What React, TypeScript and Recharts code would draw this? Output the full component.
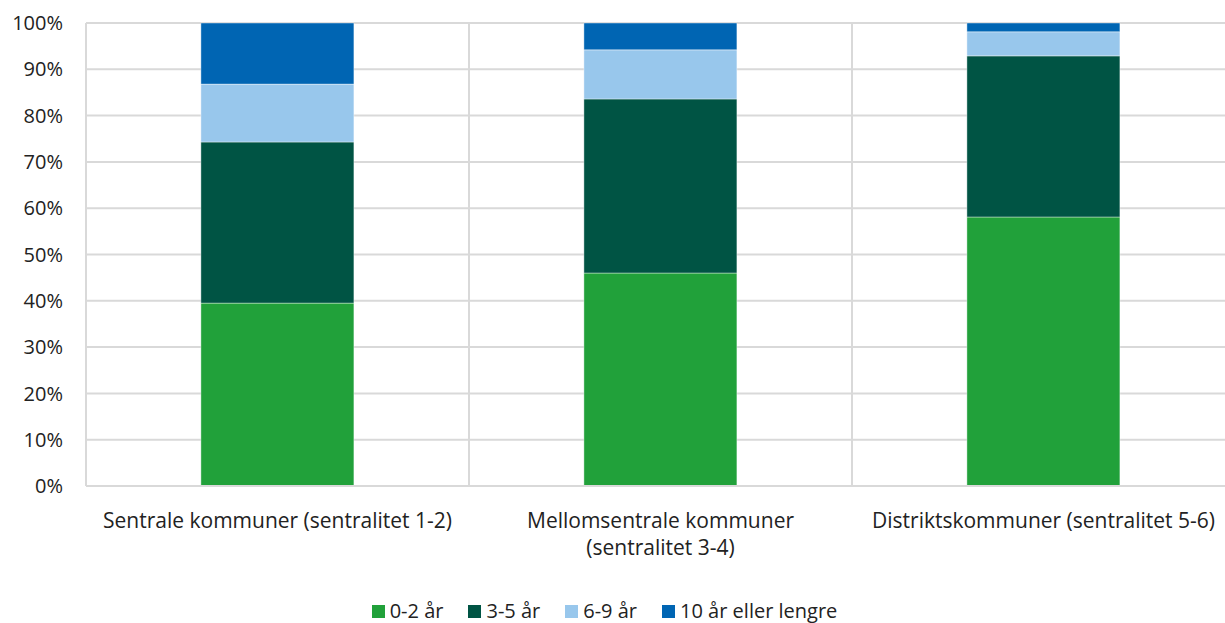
import React from "react";
import {
  BarChart,
  Bar,
  XAxis,
  YAxis,
  CartesianGrid,
} from "recharts";

const categories = [
  "Sentrale kommuner (sentralitet 1-2)",
  "Mellomsentrale kommuner\n(sentralitet 3-4)",
  "Distriktskommuner (sentralitet 5-6)",
];
const seriesNames = ["0-2 år", "3-5 år", "6-9 år", "10 år eller lengre"];
const colors = ["#21a13a", "#005444", "#98c7ec", "#0065b3"];
const share02 = [39.5, 46.0, 58.1];
const share35 = [34.8, 37.6, 34.8];
const share69 = [12.5, 10.6, 5.2];
const share10 = [13.2, 5.8, 1.9];
const yTicks = [0, 10, 20, 30, 40, 50, 60, 70, 80, 90, 100];

const seriesValues = [share02, share35, share69, share10];
const data = categories.map((name, i) => {
  const row: Record<string, any> = { name };
  seriesNames.forEach((s, j) => {
    row[s] = seriesValues[j][i];
  });
  return row;
});

const FONT = "'Open Sans', sans-serif";
const TEXT = "#222222";
const GRID = "#d9d9d9";

const CategoryTick = (props: any) => {
  const { x, y, payload } = props;
  const lines = String(payload.value).split("\n");
  return (
    <g transform={`translate(${x},${y})`}>
      {lines.map((line, i) => (
        <text
          key={i}
          x={0}
          y={0}
          dy={34 + i * 27}
          textAnchor="middle"
          fill={TEXT}
          fontSize={21}
          fontFamily={FONT}
        >
          {line}
        </text>
      ))}
    </g>
  );
};

const App = () => {
  return (
    <div
      style={{
        position: "absolute",
        left: 0,
        top: 0,
        width: 1225,
        height: 623,
        overflow: "hidden",
        background: "#fff",
      }}
    >
      <BarChart
        width={1240}
        height={623}
        data={data}
        margin={{ top: 23, right: 5, left: 0, bottom: 0 }}
        barCategoryGap="30%"
      >
        <CartesianGrid
          stroke={GRID}
          strokeWidth={2}
          verticalCoordinatesGenerator={({ offset }: any) =>
            [0, 1, 2, 3].map(
              (k) => offset.left + (offset.width * k) / categories.length
            )
          }
        />
        <XAxis
          dataKey="name"
          height={137}
          interval={0}
          axisLine={{ stroke: GRID, strokeWidth: 2 }}
          tickLine={false}
          tick={<CategoryTick />}
        />
        <YAxis
          width={86}
          domain={[0, 100]}
          ticks={yTicks}
          interval={0}
          axisLine={{ stroke: GRID, strokeWidth: 2 }}
          tickLine={false}
          tickSize={0}
          tickMargin={23}
          tickFormatter={(v: number) => `${v}%`}
          tick={{ fill: TEXT, fontSize: 20, fontFamily: FONT }}
        />
        {seriesNames.map((s, j) => (
          <Bar
            key={s}
            dataKey={s}
            stackId="a"
            fill={colors[j]}
            stroke="#ffffff"
            strokeOpacity={0.4}
            strokeWidth={1}
            isAnimationActive={false}
          />
        ))}
      </BarChart>
      <div
        style={{
          position: "absolute",
          left: 0,
          top: 598,
          width: 1209,
          paddingRight: 16,
          display: "flex",
          justifyContent: "center",
          fontFamily: FONT,
          fontSize: 20,
          color: TEXT,
          lineHeight: "26px",
        }}
      >
        {seriesNames.map((s, j) => (
          <div
            key={s}
            style={{ display: "flex", alignItems: "center", marginRight: j < seriesNames.length - 1 ? 25 : 0 }}
          >
            <span
              style={{
                display: "inline-block",
                width: 13,
                height: 13,
                background: colors[j],
                marginRight: 5,
              }}
            />
            <span>{s}</span>
          </div>
        ))}
      </div>
    </div>
  );
};

export default App;
